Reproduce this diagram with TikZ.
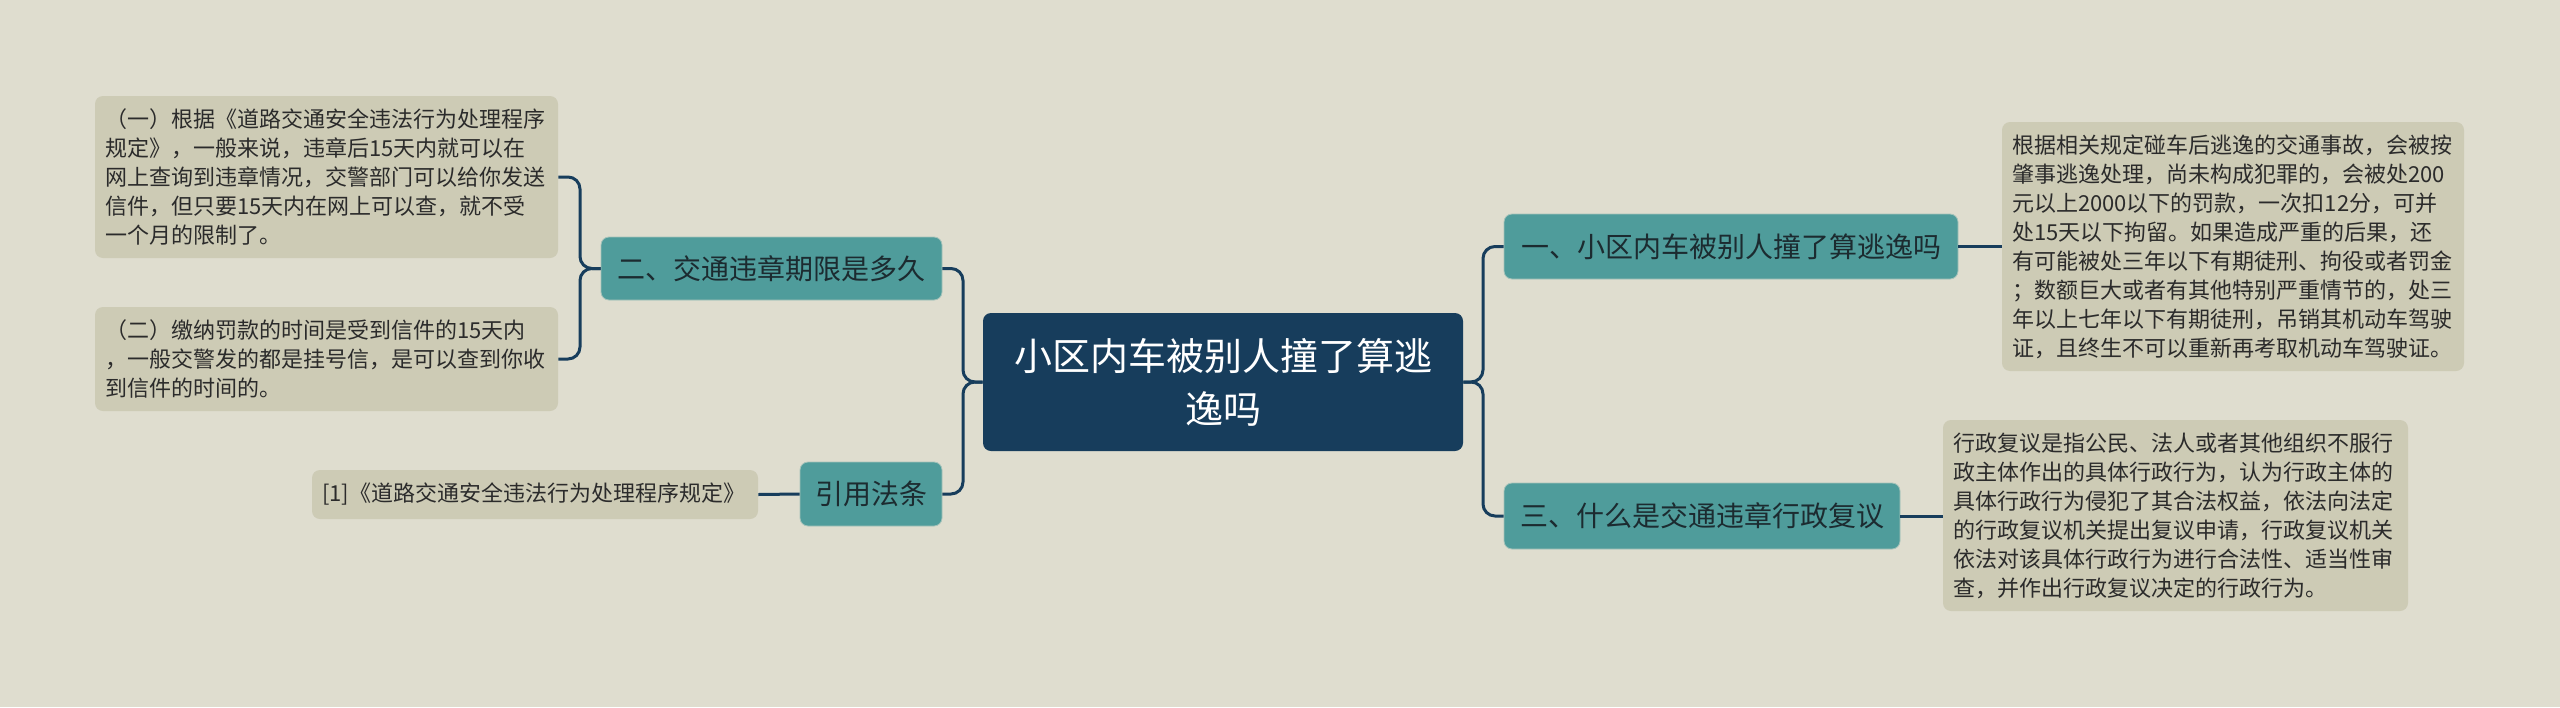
\documentclass[tikz,border=0pt]{standalone}
\usepackage{fontspec}
\newfontfamily\cjk{Noto Sans CJK SC}
\definecolor{bgc}{HTML}{DFDDCF}
\definecolor{boxc}{HTML}{CDCBB5}
\definecolor{tealc}{HTML}{4F9C9B}
\definecolor{navy}{HTML}{173D5C}
\definecolor{txt}{HTML}{2B2B2B}
\definecolor{btxt}{HTML}{1C2B30}
\tikzset{
  x=0.5pt, y=-0.5pt,
  conn/.style={draw=navy, line width=1.5pt, rounded corners=6pt},
  textbox/.style={fill=boxc, rounded corners=4pt, inner xsep=5pt, inner ysep=0pt,
     align=left, text=txt, font=\cjk\fontsize{11}{14.5}\selectfont},
  branch/.style={fill=tealc, draw=bgc!60!tealc, line width=0.4pt, rounded corners=4pt, inner sep=0pt,
     align=center, text=btxt, font=\cjk\fontsize{14}{17}\selectfont},
  center/.style={fill=navy, rounded corners=4pt, inner sep=0pt, align=center, text=white,
     font=\cjk\fontsize{19}{26.5}\selectfont}
}
\begin{document}
\begin{tikzpicture}
\fill[bgc] (0,0) rectangle (2560,707);
\useasboundingbox (0,0) rectangle (2560,707);

% center
\node[center, minimum width=240pt, minimum height=69pt] (c) at (1223,382)
  {小区内车被别人撞了算逃\\逸吗};

% left branches
\node[branch, minimum width=170.5pt, minimum height=31.5pt] (b2) at (771.5,268.5) {二、交通违章期限是多久};
\node[branch, minimum width=71pt, minimum height=32pt] (bref) at (871,494) {引用法条};

% right branches
\node[branch, minimum width=227pt, minimum height=32.5pt] (b1) at (1731,246.5) {一、小区内车被别人撞了算逃逸吗};
\node[branch, minimum width=198pt, minimum height=33pt] (b3) at (1702,516) {三、什么是交通违章行政复议};

% text boxes
\node[textbox, text width=221.5pt, minimum height=81pt] (t1) at (326.5,177)
  {（一）根据《道路交通安全违法行为处理程序\\规定》，一般来说，违章后15天内就可以在\\网上查询到违章情况，交警部门可以给你发送\\信件，但只要15天内在网上可以查，就不受\\一个月的限制了。};
\node[textbox, text width=221.5pt, minimum height=52pt] (t2) at (326.5,359)
  {（二）缴纳罚款的时间是受到信件的15天内\\，一般交警发的都是挂号信，是可以查到你收\\到信件的时间的。};
\node[textbox, text width=213pt, minimum height=24.5pt] (tref) at (535,494.5)
  {[1]《道路交通安全违法行为处理程序规定》};
\node[textbox, text width=221pt, minimum height=124.5pt] (tr1) at (2233,246.5)
  {根据相关规定碰车后逃逸的交通事故，会被按\\肇事逃逸处理，尚未构成犯罪的，会被处200\\元以上2000以下的罚款，一次扣12分，可并\\处15天以下拘留。如果造成严重的后果，还\\有可能被处三年以下有期徒刑、拘役或者罚金\\；数额巨大或者有其他特别严重情节的，处三\\年以上七年以下有期徒刑，吊销其机动车驾驶\\证，且终生不可以重新再考取机动车驾驶证。};
\node[textbox, text width=222.5pt, minimum height=95.5pt] (tr3) at (2175.5,515.5)
  {行政复议是指公民、法人或者其他组织不服行\\政主体作出的具体行政行为，认为行政主体的\\具体行政行为侵犯了其合法权益，依法向法定\\的行政复议机关提出复议申请，行政复议机关\\依法对该具体行政行为进行合法性、适当性审\\查，并作出行政复议决定的行政行为。};

% buses
\coordinate (lbus) at (963,382);
\coordinate (rbus) at (1483,382);
\coordinate (b2bus) at (580,268.5);

% connectors
\draw[conn] (c.west) -- (lbus) |- (b2.east);
\draw[conn] (c.west) -- (lbus) |- (bref.east);
\draw[conn] (c.east) -- (rbus) |- (b1.west);
\draw[conn] (c.east) -- (rbus) |- (b3.west);
\draw[conn] (b2.west) -- (b2bus) |- (t1.east);
\draw[conn] (b2.west) -- (b2bus) |- (t2.east);
\draw[conn] (bref.west) -- (tref.east);
\draw[conn] (b1.east) -- (b1.east -| tr1.west);
\draw[conn] (b3.east) -- (b3.east -| tr3.west);
\end{tikzpicture}
\end{document}
